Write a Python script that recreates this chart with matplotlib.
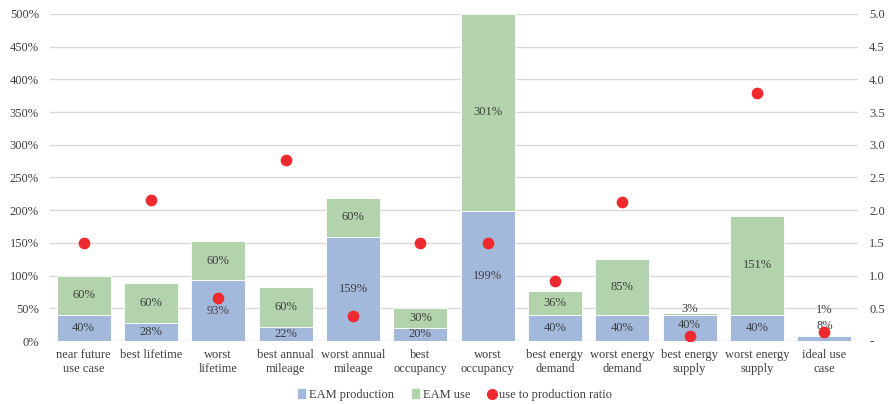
import matplotlib
matplotlib.use("Agg")
import matplotlib.pyplot as plt
from matplotlib.ticker import FuncFormatter
from matplotlib.lines import Line2D
from matplotlib.patches import Patch

categories = ["near future\nuse case", "best lifetime", "worst\nlifetime", "best annual\nmileage",
              "worst annual\nmileage", "best\noccupancy", "worst\noccupancy", "best energy\ndemand",
              "worst energy\ndemand", "best energy\nsupply", "worst energy\nsupply", "ideal use\ncase"]
production = [40, 28, 93, 22, 159, 20, 199, 40, 40, 40, 40, 8]
use = [60, 60, 60, 60, 60, 30, 301, 36, 85, 3, 151, 1]
ratio = [1.50, 2.16, 0.66, 2.76, 0.38, 1.50, 1.50, 0.91, 2.13, 0.08, 3.79, 0.13]

plt.rcParams['font.family'] = ['Liberation Serif', 'DejaVu Serif']
blue = '#A3B9DC'
green = '#B2D3AC'
red = '#EE2A2E'
txt = '#404040'

fig = plt.figure(figsize=(8.93, 4.04), dpi=100)
ax = fig.add_axes([50/893, 1-341/404, 808/893, 327/404])
ax2 = ax.twinx()

x = list(range(len(categories)))
w = 0.8
ax.bar(x, production, width=w, color=blue, edgecolor='white', linewidth=0.6, zorder=2)
ax.bar(x, use, width=w, bottom=production, color=green, edgecolor='white', linewidth=0.6, zorder=2)

# label positions: centered in segment; tiny segments get labels nudged above
for i in x:
    p, u = production[i], use[i]
    py = p / 2
    uy = p + u / 2
    if u < 5:
        if p > 20:
            py = p * 0.6
            uy = p + u + 6
        else:
            py = p + 15
            uy = p + u + 38
    ax.text(i, py, f"{p}%", ha='center', va='center', fontsize=9, color=txt, zorder=4)
    ax.text(i, uy, f"{u}%", ha='center', va='center', fontsize=9, color=txt, zorder=4)

ax2.scatter(x, ratio, s=55, color=red, zorder=5)

ax.set_ylim(0, 500)
ax2.set_ylim(0, 5)
ax.set_xlim(-0.5, len(categories) - 0.5)
ax.set_yticks(range(0, 501, 50))
ax.yaxis.set_major_formatter(FuncFormatter(lambda v, p: f"{int(v)}%"))
ax2.set_yticks([i * 0.5 for i in range(11)])
ax2.yaxis.set_major_formatter(FuncFormatter(lambda v, p: "-" if v == 0 else f"{v:.1f}"))
ax.grid(axis='y', color='#D9D9D9', linewidth=1, zorder=0)
ax.set_axisbelow(True)
for a in (ax, ax2):
    for s in a.spines.values():
        s.set_visible(False)
    a.tick_params(length=0, labelsize=9, colors=txt)
ax.set_xticks(x)
ax.set_xticklabels(categories, fontsize=9, color=txt, linespacing=1.2)
ax.tick_params(axis='x', pad=6)
ax.tick_params(axis='y', pad=8)
ax2.tick_params(axis='y', pad=8)

handles = [Patch(color=blue, label='EAM production'), Patch(color=green, label='EAM use'),
           Line2D([], [], marker='o', linestyle='', color=red, markersize=7, label='use to production ratio')]
fig.legend(handles=handles, loc='center', bbox_to_anchor=(455/893, 1-395/404), ncol=3, frameon=False,
           fontsize=9, handlelength=0.6, handleheight=0.7, handletextpad=0.3, columnspacing=1.4,
           labelcolor=txt)

fig.savefig("out.png", dpi=100)
